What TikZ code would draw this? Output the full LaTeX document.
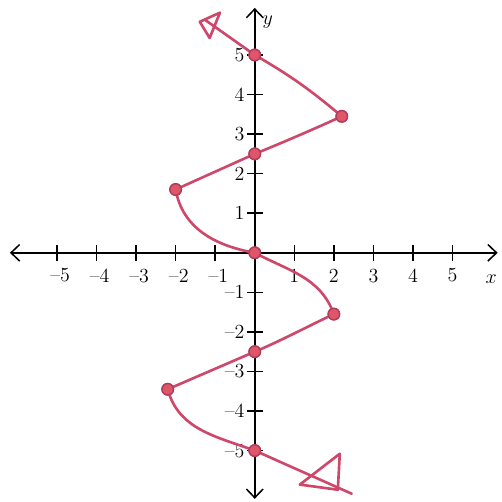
\documentclass[tikz,border=0pt]{standalone}
\usetikzlibrary{arrows.meta}
\definecolor{pen}{RGB}{206,72,108}
\definecolor{dotfill}{RGB}{222,86,104}
\begin{document}
\begin{tikzpicture}[
  axis/.style={line width=1.1pt, {Straight Barb[length=2.2mm,width=4.2mm]}-{Straight Barb[length=2.2mm,width=4.2mm]}},
  tick/.style={line width=1.1pt},
  curve/.style={pen, line width=1.9pt, line cap=round, line join=round},
  pt/.style={circle, draw=pen!85!black, fill=dotfill, line width=1pt, inner sep=0pt, minimum size=2.9mm},
  lbl/.style={font=\Large, inner sep=1pt}]
\useasboundingbox (-6.44,-6.3) rectangle (6.24,6.39);
% axes
\coordinate (xl) at (-6.19,0);
\coordinate (xr) at (6.14,0);
\coordinate (yt) at (0,6.19);
\coordinate (yb) at (0,-6.22);
\draw[axis] (xl) -- (xr);
\draw[axis] (yb) -- (yt);
\foreach \i in {-5,...,-1,1,2,...,5} {
  \draw[tick] (\i,-0.2) -- (\i,0.2);
  \draw[tick] (-0.2,\i) -- (0.2,\i);
}
\foreach \i in {1,...,5} {
  \node[lbl, anchor=north] (xp\i) at (\i,-0.36) {\i};
  \node[lbl, anchor=north] (xm\i) at (-\i+0.08,-0.36) {--\i};
  \node[lbl, anchor=east] (yp\i) at (-0.22,\i) {\i};
  \node[lbl, anchor=east] (ym\i) at (-0.22,-\i) {--\i};
}
\node[lbl] (xlab) at (5.98,-0.66) {$x$};
\node[lbl] (ylab) at (0.33,5.82) {$y$};
% plotted points
\node[pt] (p1) at (0,5) {};
\node[pt] (p2) at (2.2,3.45) {};
\node[pt] (p3) at (0,2.5) {};
\node[pt] (p4) at (-2,1.6) {};
\node[pt] (p5) at (0,0) {};
\node[pt] (p6) at (2,-1.55) {};
\node[pt] (p7) at (0,-2.5) {};
\node[pt] (p8) at (-2.2,-3.45) {};
\node[pt] (p9) at (0,-5) {};
\coordinate (topend) at (-1.26,5.89);
\coordinate (botend) at (2.45,-6.09);
% the graph
\draw[curve] (topend) -- (p1.center)
  to[out=-30, in=140] (p2.center)
  to[out=-155, in=22, looseness=0.7] (p3.center)
  -- (p4.center)
  to[out=-80, in=170] (p5.center)
  to[out=-28, in=110] (p6.center)
  to[out=-155, in=22, looseness=0.7] (p7.center)
  -- (p8.center)
  to[out=-75, in=160] (p9.center)
  -- (botend);
% hand drawn heads
\coordinate (ta) at (-1.39,5.84);
\coordinate (tb) at (-0.88,6.07);
\coordinate (tc) at (-1.14,5.43);
\coordinate (ba) at (1.14,-5.86);
\coordinate (bb) at (2.15,-5.08);
\coordinate (bc) at (2.10,-5.99);
\draw[curve] (ta) -- (tb) -- (tc) -- cycle;
\draw[curve] (ba) -- (bb) -- (bc) -- cycle;
% redraw dots on top
\foreach \n in {p1,p2,p3,p4,p5,p6,p7,p8,p9}
  \node[pt] at (\n) {};
\end{tikzpicture}
\end{document}
